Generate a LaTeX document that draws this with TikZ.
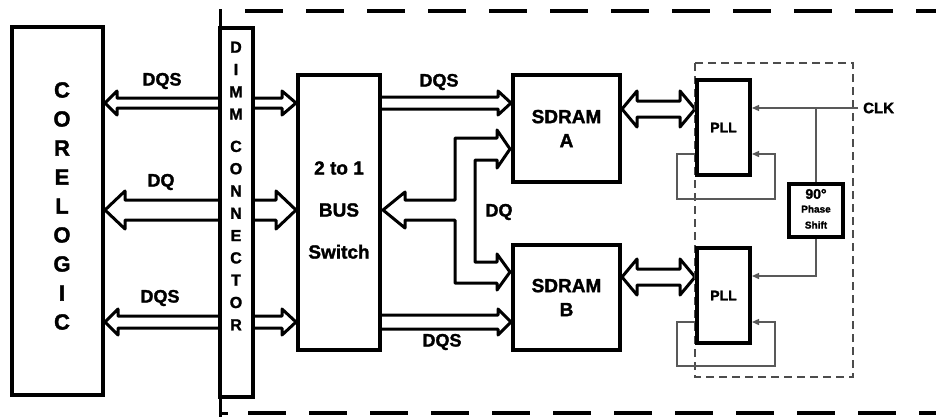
\documentclass[tikz,border=0pt]{standalone}
\usepackage{fontspec}
\setmainfont{Liberation Sans}[BoldFeatures={FakeBold=1.6}]
\usetikzlibrary{arrows.meta,calc}
\pgfdeclarelayer{bg}
\pgfsetlayers{bg,main}
\tikzset{
 box/.style={draw, line width=4pt, inner sep=0pt, fill=white, font=\bfseries\fontsize{19}{24}\selectfont, align=center},
 fatline/.style={draw, line width=3pt, fill=white, line join=round},
 thinline/.style={draw=black!65, line width=1.3pt},
 tipthin/.style={-{Triangle[length=7pt,width=6pt]}},
 lbl/.style={inner sep=0pt, font=\bfseries\fontsize{18}{20}\selectfont},
}
\newcommand\fatR[5]{\path[fatline] let \p1=(#1), \p2=(#2) in (\x1,\y2+#3) -- (\x2-#5,\y2+#3) -- (\x2-#5,\y2+#4) -- (\x2,\y2) -- (\x2-#5,\y2-#4) -- (\x2-#5,\y2-#3) -- (\x1,\y2-#3);}
\newcommand\fatL[5]{\path[fatline] let \p1=(#1), \p2=(#2) in (\x1,\y2+#3) -- (\x2+#5,\y2+#3) -- (\x2+#5,\y2+#4) -- (\x2,\y2) -- (\x2+#5,\y2-#4) -- (\x2+#5,\y2-#3) -- (\x1,\y2-#3);}
\newcommand\fatD[5]{\path[fatline] let \p1=(#1), \p2=(#2) in (\x1,\y1) -- (\x1+#5,\y1+#4) -- (\x1+#5,\y1+#3) -- (\x2-#5,\y1+#3) -- (\x2-#5,\y1+#4) -- (\x2,\y1) -- (\x2-#5,\y1-#4) -- (\x2-#5,\y1-#3) -- (\x1+#5,\y1-#3) -- (\x1+#5,\y1-#4) -- cycle;}
\begin{document}
\begin{tikzpicture}[x=1pt,y=-1pt]
\useasboundingbox (0,0) rectangle (936,416);
\begin{pgfonlayer}{bg}
\fill[white] (0,0) rectangle (936,416);
\end{pgfonlayer}
% outer frame
\draw[line width=4pt, dash pattern=on 38pt off 23pt] (245,11) -- (945,11);
\draw[line width=4pt, dash pattern=on 38pt off 23pt] (248,413) -- (945,413);
\draw[line width=3pt] (220,9) -- (220,418);
\draw[line width=3pt] (220,413) -- (228,413);
% PLL dashed enclosure
\draw[draw=black!70, line width=1.4pt, dash pattern=on 8pt off 5pt] (695,63) rectangle (853,377);
% boxes
\node[box, minimum width=91pt, minimum height=368pt] (core) at (57.5,211) {};
\node[box, minimum width=33pt, minimum height=369pt] (dimm) at (236.5,212.5) {};
\node[box, minimum width=82pt, minimum height=275pt] (bus) at (339,212.5) {};
\node[box, minimum width=107pt, minimum height=107pt] (sdA) at (566.5,128.5) {SDRAM\\A};
\node[box, minimum width=107pt, minimum height=105pt] (sdB) at (566.5,297.5) {SDRAM\\B};
\node[box, minimum width=53pt, minimum height=95pt, font=\bfseries\fontsize{14}{16}\selectfont] (pllA) at (723.5,127.5) {PLL};
\node[box, minimum width=53pt, minimum height=95pt, font=\bfseries\fontsize{14}{16}\selectfont] (pllB) at (723.5,295.5) {PLL};
\node[box, line width=3.5pt, minimum width=54pt, minimum height=53pt] (phase) at (816,210.5) {};
% texts
\node[lbl, font=\bfseries\fontsize{22}{29}\selectfont, align=center] (coretxt) at (62,206) {C\\O\\R\\E\\L\\O\\G\\I\\C};
\node[lbl, font=\bfseries\fontsize{16}{22.3}\selectfont, align=center] (dimmtxt) at (236,186) {D\\I\\M\\M\\[10pt]C\\O\\N\\N\\E\\C\\T\\O\\R};
\node[lbl, font=\bfseries\fontsize{19}{42}\selectfont, align=center] (bustxt) at (339,210) {2 to 1\\BUS\\Switch};
\node[lbl, font=\bfseries\fontsize{14}{16}\selectfont] (ps1) at (816,194) {90°};
\node[lbl, font=\bfseries\fontsize{10}{12}\selectfont] (ps2) at (816,209) {Phase};
\node[lbl, font=\bfseries\fontsize{10}{12}\selectfont] (ps3) at (816,225) {Shift};
\node[lbl, font=\bfseries\fontsize{15}{17}\selectfont, anchor=west] (clk) at (863,108) {CLK};
\node[lbl] (dqs1) at (162,81) {DQS};
\node[lbl] (dq1) at (161,182) {DQ};
\node[lbl] (dqs2) at (160,298) {DQS};
\node[lbl] (dqs3) at (439,82) {DQS};
\node[lbl] (dqs4) at (442,342) {DQS};
\node[lbl] (dq2) at (499,212) {DQ};
% coordinates
\coordinate (yq1) at (0,103);
\coordinate (yq2) at (0,210);
\coordinate (yq3) at (0,322);
\coordinate (yA) at (0,109);
\coordinate (yB) at (0,277);
\coordinate (clkin) at (858,108);
\coordinate (yPB) at (0,276);
\coordinate (fbA) at (0,154);
\coordinate (fbB) at (0,322);
% fat arrows
\begin{pgfonlayer}{bg}
\fatL{dimm.west |- yq1}{core.east |- yq1}{5pt}{12pt}{12pt}
\fatR{dimm.east |- yq1}{bus.west |- yq1}{5pt}{12pt}{14pt}
\fatL{dimm.west |- yq2}{core.east |- yq2}{10pt}{19pt}{20pt}
\fatR{dimm.east |- yq2}{bus.west |- yq2}{10pt}{19pt}{20pt}
\fatL{dimm.west |- yq3}{core.east |- yq3}{6pt}{13pt}{13pt}
\fatR{dimm.east |- yq3}{bus.west |- yq3}{6pt}{13pt}{14pt}
\fatR{bus.east |- yq1}{sdA.west |- yq1}{6pt}{12pt}{13pt}
\fatR{bus.east |- yq3}{sdB.west |- yq3}{7pt}{13pt}{13pt}
\fatD{sdA.east |- yA}{pllA.west |- yA}{8pt}{18pt}{15pt}
\fatD{sdB.east |- yB}{pllB.west |- yB}{8pt}{18pt}{15pt}
\path[fatline] let \p1=(bus.east), \p2=(sdA.west) in
 (\x1+1pt,-210pt) -- (405,192) -- (405,200) -- (455,200) -- (455,138) -- (497,138) -- (497,130)
 -- (\x2-1pt,-149pt) -- (497,168) -- (497,160) -- (475,160) -- (475,262) -- (497,262) -- (497,254)
 -- (\x2-1pt,-272pt) -- (497,290) -- (497,283) -- (455,283) -- (455,220) -- (405,220) -- (405,228) -- cycle;
\end{pgfonlayer}
% thin clock lines
\draw[thinline, tipthin] (clkin) -- (clkin -| pllA.east);
\draw[thinline] (phase.north |- clkin) -- (phase.north);
\draw[thinline, tipthin] (phase.south) |- (pllB.east |- yPB);
\draw[thinline, tipthin] (pllA.west |- fbA) -- ++(-18,0) -- ++(0,45) -- ++(98,0) -- ++(0,-45) -- (pllA.east |- fbA);
\draw[thinline, tipthin] (pllB.west |- fbB) -- ++(-18,0) -- ++(0,44) -- ++(98,0) -- ++(0,-44) -- (pllB.east |- fbB);
\end{tikzpicture}
\end{document}
